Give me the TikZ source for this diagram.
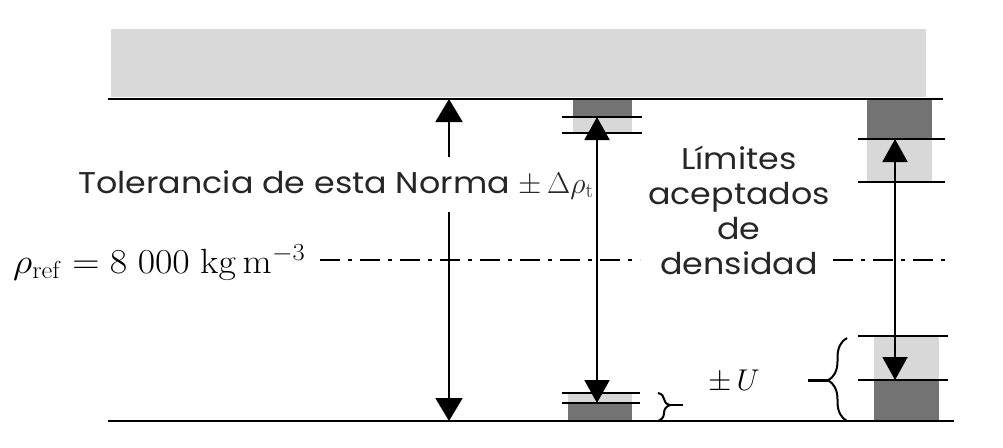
\RequirePackage{fix-cm}
\documentclass[tikz,border=0pt]{standalone}
\usepackage{graphicx}
\usepackage[no-math]{fontspec}
\setmainfont{Poppins}[FakeStretch=1.11]
\usetikzlibrary{arrows.meta,decorations.pathreplacing}
\definecolor{bandgray}{RGB}{217,217,217}
\definecolor{lightgray}{RGB}{216,216,216}
\definecolor{darkgray}{RGB}{115,115,115}
\tikzset{
  rule/.style={line width=2.4pt},
  tick/.style={line width=2pt},
  dimarrow/.style={line width=2pt, {Triangle[width=27pt,length=23pt]}-{Triangle[width=27pt,length=23pt]}},
  midarrow/.style={line width=2pt, {Triangle[width=25pt,length=23pt]}-{Triangle[width=25pt,length=23pt]}},
  dashdot/.style={line width=2pt, dash pattern=on 20pt off 8pt on 4pt off 8pt},
  label/.style={inner sep=0pt, text=black!85, font=\fontsize{30}{35}\selectfont},
  mathlabel/.style={inner sep=0pt, font=\fontsize{35}{40}\selectfont},
  bracedeco/.style={line width=2pt, decorate}
}
\begin{document}
\begin{tikzpicture}[x=1pt,y=-1pt]
\useasboundingbox (0,0) rectangle (1003,447);
% top band
\fill[bandgray] (111,29) rectangle (926,97);
% columns
\fill[darkgray] (573,100) rectangle (632,117);
\fill[lightgray] (573,117) rectangle (632,133);
\fill[lightgray] (568,393) rectangle (632,403);
\fill[darkgray] (568,403) rectangle (632,421);
\fill[darkgray] (867,100) rectangle (932,139);
\fill[lightgray] (867,139) rectangle (932,182);
\fill[lightgray] (874,336) rectangle (939,380);
\fill[darkgray] (874,380) rectangle (939,421);
% main rules
\coordinate (topL) at (108,99);
\coordinate (topR) at (943,99);
\coordinate (botL) at (108,421);
\coordinate (botR) at (954,421);
\draw[rule] (topL) -- (topR);
\draw[rule] (botL) -- (botR);
% limit ticks
\coordinate (m1a) at (562,117); \coordinate (m1b) at (642,117);
\coordinate (m2a) at (562,133); \coordinate (m2b) at (642,133);
\coordinate (m3a) at (562,393); \coordinate (m3b) at (640,393);
\coordinate (m4a) at (562,403); \coordinate (m4b) at (640,403);
\coordinate (r1a) at (858,139); \coordinate (r1b) at (945,139);
\coordinate (r2a) at (858,182); \coordinate (r2b) at (945,182);
\coordinate (r3a) at (858,336); \coordinate (r3b) at (948,336);
\coordinate (r4a) at (858,380); \coordinate (r4b) at (948,380);
\foreach \p in {m1,m2,m3,m4,r1,r2,r3,r4} \draw[tick] (\p a) -- (\p b);
% reference density line
\coordinate (d1a) at (320,260); \coordinate (d1b) at (640,260);
\coordinate (d2a) at (833,260); \coordinate (d2b) at (952,260);
\draw[dashdot] (d1a) -- (d1b);
\draw[dashdot] (d2a) -- (d2b);
% arrows
\coordinate (A1t) at (449,99);  \coordinate (A1b) at (449,421);
\coordinate (A2t) at (597,117); \coordinate (A2b) at (597,403);
\coordinate (A3t) at (895,139); \coordinate (A3b) at (895,380);
\draw[dimarrow] (A1t) -- (A1b);
\draw[midarrow] (A2t) -- (A2b);
\draw[midarrow] (A3t) -- (A3b);
% braces
\coordinate (b1t) at (658,393); \coordinate (b1b) at (658,421);
\draw[bracedeco, decoration={brace, amplitude=12pt, aspect=0.43}] (b1t) -- (b1b);
\coordinate (b1tip) at (670,405); \coordinate (b1end) at (683,405);
\draw[tick] (b1tip) -- (b1end);
\coordinate (b2b) at (847,421); \coordinate (b2t) at (847,338);
\draw[bracedeco, decoration={brace, amplitude=19pt, aspect=0.49}] (b2b) -- (b2t);
\coordinate (b2tip) at (828,380); \coordinate (b2end) at (808,380);
\draw[line width=3pt] (b2tip) -- (b2end);
% texts
\node[label, anchor=base west, fill=white, inner ysep=13pt] (tol) at (78,193) {Tolerancia de esta Norma $\pm\,\Delta\rho_{\mathrm{t}}$};
\node[mathlabel, anchor=base west] (rho) at (13,273) {\scalebox{1.08}[1]{$\rho_{\mathrm{ref}} = 8\;000\;\mathrm{kg}\,\mathrm{m}^{-3}$}};
\node[label, align=center] (lim) at (739,210) {Límites\\aceptados\\de\\densidad};
\node[mathlabel, anchor=base west, font=\fontsize{30}{36}\selectfont] (pmU) at (708,390) {$\pm\,U$};
\end{tikzpicture}
\end{document}
